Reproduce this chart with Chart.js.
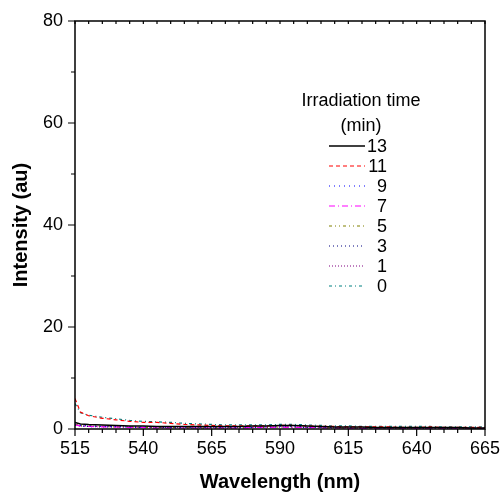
<!DOCTYPE html>
<html lang="en">
<head>
  <meta charset="UTF-8">
  <title>Intensity vs wavelength</title>
  <script src="https://cdn.jsdelivr.net/npm/chart.js@4"></script>
  <style>
    html, body { margin: 0; padding: 0; background: #ffffff; }
    #wrap { width: 502px; height: 494px; }
  </style>
</head>
<body>
  <div id="wrap"><canvas id="grafico"></canvas></div>
  <script>
    // wavelength (nm)
    const wavelengths = [515, 517, 520, 525, 530, 535, 540, 545, 550, 555, 560, 565, 570, 575, 580, 585,
                         590, 595, 600, 605, 610, 615, 620, 625, 630, 635, 640, 645, 650, 655, 660, 665];

    // irradiation time labels (min)
    const tiempos = ["13", "11", "9", "7", "5", "3", "1", "0"];

    const int13 = [1.3, 1.0, 0.9, 0.8, 0.7, 0.6, 0.6, 0.5, 0.5, 0.5, 0.5, 0.5, 0.5, 0.5, 0.6, 0.6,
                   0.7, 0.7, 0.6, 0.5, 0.4, 0.4, 0.4, 0.3, 0.3, 0.3, 0.3, 0.3, 0.3, 0.3, 0.2, 0.2];
    const int11 = [6.0, 3.3, 2.6, 2.1, 1.8, 1.5, 1.3, 1.3, 1.1, 0.9, 0.8, 0.7, 0.6, 0.6, 0.6, 0.6,
                   0.7, 0.7, 0.6, 0.5, 0.5, 0.4, 0.4, 0.4, 0.4, 0.3, 0.3, 0.4, 0.3, 0.3, 0.3, 0.3];
    const int9  = [0.9, 0.7, 0.6, 0.5, 0.5, 0.4, 0.4, 0.4, 0.3, 0.3, 0.3, 0.3, 0.3, 0.3, 0.4, 0.4,
                   0.5, 0.5, 0.4, 0.3, 0.3, 0.3, 0.2, 0.2, 0.2, 0.2, 0.2, 0.2, 0.2, 0.2, 0.2, 0.2];
    const int7  = [0.8, 0.6, 0.5, 0.4, 0.4, 0.3, 0.3, 0.2, 0.2, 0.2, 0.2, 0.2, 0.2, 0.2, 0.3, 0.3,
                   0.4, 0.3, 0.3, 0.2, 0.2, 0.1, 0.1, 0.1, 0.1, 0.1, 0.1, 0.1, 0.1, 0.1, 0.1, 0.1];
    const int5  = [0.9, 0.7, 0.6, 0.5, 0.4, 0.4, 0.3, 0.3, 0.3, 0.3, 0.2, 0.2, 0.2, 0.3, 0.3, 0.3,
                   0.4, 0.4, 0.3, 0.3, 0.2, 0.2, 0.2, 0.2, 0.2, 0.2, 0.2, 0.2, 0.1, 0.1, 0.1, 0.1];
    const int3  = [0.7, 0.6, 0.5, 0.4, 0.4, 0.3, 0.3, 0.3, 0.3, 0.2, 0.2, 0.2, 0.2, 0.2, 0.3, 0.3,
                   0.4, 0.4, 0.3, 0.3, 0.2, 0.2, 0.2, 0.2, 0.2, 0.2, 0.2, 0.1, 0.1, 0.1, 0.1, 0.1];
    const int1  = [0.8, 0.6, 0.5, 0.5, 0.4, 0.4, 0.3, 0.3, 0.3, 0.3, 0.3, 0.3, 0.3, 0.3, 0.3, 0.4,
                   0.4, 0.4, 0.3, 0.3, 0.3, 0.2, 0.2, 0.2, 0.2, 0.2, 0.2, 0.2, 0.2, 0.2, 0.2, 0.2];
    const int0  = [5.0, 3.2, 2.7, 2.3, 2.0, 1.7, 1.5, 1.4, 1.3, 1.1, 1.0, 0.9, 0.8, 0.8, 0.8, 0.8,
                   0.9, 0.9, 0.8, 0.7, 0.6, 0.6, 0.5, 0.5, 0.5, 0.5, 0.5, 0.5, 0.4, 0.4, 0.4, 0.4];

    const series = [int13, int11, int9, int7, int5, int3, int1, int0];
    const colores = ["#000000", "#ff0000", "#0000ff", "#ff00ff", "#808000", "#000080", "#800080", "#008080"];
    const trazos = [[], [4, 3], [1, 4], [6, 3, 1, 3], [3, 3, 1, 3, 1, 3], [1, 3], [1, 2], [3, 3, 1, 3]];

    const fuente = "'Liberation Sans', Arial, sans-serif";

    const datasets = series.map((vals, i) => ({
      label: tiempos[i],
      data: vals.map((v, j) => ({ x: wavelengths[j], y: v })),
      borderColor: colores[i],
      borderWidth: i === 0 ? 1.5 : 1.2,
      borderDash: trazos[i],
      pointRadius: 0,
      tension: 0,
      fill: false
    }));

    // ticks al estilo Origin + marco + leyenda
    const marcoPlugin = {
      id: "marco",
      afterDraw(chart) {
        const ctx = chart.ctx;
        const a = chart.chartArea;
        const xs = chart.scales.x, ys = chart.scales.y;
        ctx.save();
        ctx.strokeStyle = "#000";
        ctx.lineWidth = 1.5;
        ctx.strokeRect(a.left, a.top, a.right - a.left, a.bottom - a.top);
        ctx.lineWidth = 1.2;
        ctx.beginPath();
        for (let w = 515; w <= 665; w += 5) {
          const px = xs.getPixelForValue(w);
          const major = (w - 515) % 25 === 0;
          ctx.moveTo(px, a.bottom);
          ctx.lineTo(px, a.bottom + (major ? 7 : 4));
          ctx.moveTo(px, a.top);
          ctx.lineTo(px, a.top + 3);
        }
        for (let v = 0; v <= 80; v += 10) {
          const py = ys.getPixelForValue(v);
          const major = v % 20 === 0;
          ctx.moveTo(a.left, py);
          ctx.lineTo(a.left - (major ? 7 : 4), py);
        }
        ctx.stroke();

        // leyenda
        ctx.fillStyle = "#000";
        ctx.font = "18px " + fuente;
        ctx.textAlign = "center";
        ctx.textBaseline = "middle";
        ctx.fillText("Irradiation time", 361, 101);
        ctx.fillText("(min)", 361, 126);
        ctx.textAlign = "right";
        chart.data.datasets.forEach((ds, i) => {
          const y = 146 + i * 20;
          ctx.strokeStyle = ds.borderColor;
          ctx.lineWidth = ds.borderWidth;
          ctx.setLineDash(ds.borderDash);
          ctx.beginPath();
          ctx.moveTo(329, y);
          ctx.lineTo(365, y);
          ctx.stroke();
          ctx.setLineDash([]);
          ctx.fillText(ds.label, 387, y + 1);
        });
        ctx.restore();
      }
    };

    new Chart(document.getElementById("grafico"), {
      type: "line",
      data: { datasets },
      options: {
        responsive: true,
        maintainAspectRatio: false,
        animation: false,
        layout: { padding: { top: 21, right: 17, left: 0, bottom: 0 } },
        plugins: { legend: { display: false }, tooltip: { enabled: false } },
        scales: {
          x: {
            type: "linear",
            min: 515,
            max: 665,
            grid: { display: false },
            border: { display: false },
            afterFit: s => { s.height = 65; s.paddingLeft = 0; s.paddingRight = 0; },
            ticks: {
              stepSize: 25,
              color: "#000",
              padding: 1,
              maxRotation: 0,
              font: { family: fuente, size: 18 }
            },
            title: {
              display: true,
              text: "Wavelength (nm)",
              color: "#000",
              font: { family: fuente, size: 20, weight: "bold" },
              padding: { top: 0, bottom: 0 }
            }
          },
          y: {
            min: 0,
            max: 80,
            grid: { display: false },
            border: { display: false },
            afterFit: s => { s.width = 75; s.paddingTop = 0; s.paddingBottom = 0; },
            ticks: {
              stepSize: 20,
              color: "#000",
              padding: 4,
              font: { family: fuente, size: 18 }
            },
            title: {
              display: true,
              text: "Intensity (au)",
              color: "#000",
              font: { family: fuente, size: 20, weight: "bold" },
              padding: { top: 9, bottom: 0 }
            }
          }
        }
      },
      plugins: [marcoPlugin]
    });
  </script>
</body>
</html>
